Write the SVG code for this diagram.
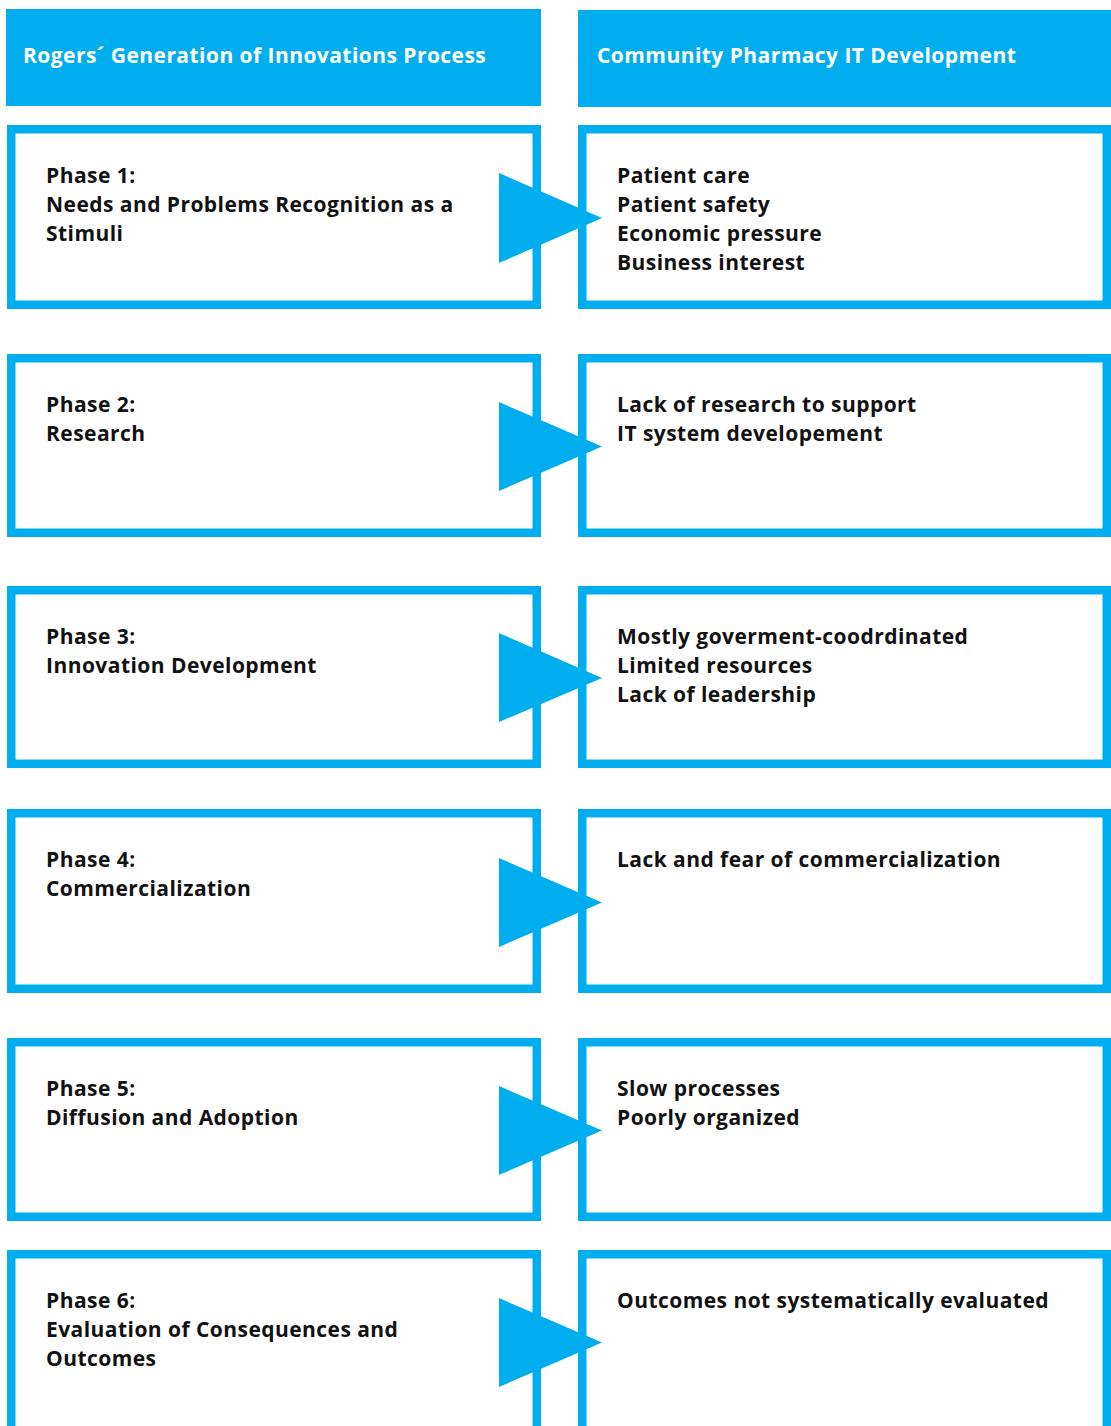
<svg xmlns="http://www.w3.org/2000/svg" width="1111" height="1426" viewBox="0 0 1111 1426">
<style>
.hdr{fill:#00AEEF}
.box{fill:#fff;stroke:#00AEEF;stroke-width:8.5}
.arr{fill:#00AEEF}
.ht{font-family:"Open Sans","Liberation Sans",sans-serif;font-weight:700;font-size:21px;letter-spacing:0.45px;fill:#fff}
.t{font-family:"Open Sans","Liberation Sans",sans-serif;font-weight:700;font-size:21px;letter-spacing:0.45px;fill:#111}
</style>
<rect width="1111" height="1426" fill="#fff"/>
<g id="header-left"><rect class="hdr" x="6" y="9" width="535" height="97"/><text class="ht" x="23" y="63">Rogers´ Generation of Innovations Process</text></g>
<g id="header-right"><rect class="hdr" x="578" y="10" width="533" height="97"/><text class="ht" x="597" y="63">Community Pharmacy IT Development</text></g>

<g id="phase1"><rect class="box" x="11.25" y="129.25" width="525.5" height="175.5"/><text class="t" x="46" y="183">Phase 1:<tspan x="46" dy="29">Needs and Problems Recognition as a</tspan><tspan x="46" dy="29">Stimuli</tspan></text></g>
<g id="it1"><rect class="box" x="582.25" y="129.25" width="524.5" height="175.5"/><text class="t" x="617" y="183">Patient care<tspan x="617" dy="29">Patient safety</tspan><tspan x="617" dy="29">Economic pressure</tspan><tspan x="617" dy="29">Business interest</tspan></text></g>

<g id="phase2"><rect class="box" x="11.25" y="358.25" width="525.5" height="174.5"/><text class="t" x="46" y="412">Phase 2:<tspan x="46" dy="29">Research</tspan></text></g>
<g id="it2"><rect class="box" x="582.25" y="358.25" width="524.5" height="174.5"/><text class="t" x="617" y="412">Lack of research to support<tspan x="617" dy="29">IT system developement</tspan></text></g>

<g id="phase3"><rect class="box" x="11.25" y="590.25" width="525.5" height="173.5"/><text class="t" x="46" y="644">Phase 3:<tspan x="46" dy="29">Innovation Development</tspan></text></g>
<g id="it3"><rect class="box" x="582.25" y="590.25" width="524.5" height="173.5"/><text class="t" x="617" y="644">Mostly goverment-coodrdinated<tspan x="617" dy="29">Limited resources</tspan><tspan x="617" dy="29">Lack of leadership</tspan></text></g>

<g id="phase4"><rect class="box" x="11.25" y="813.25" width="525.5" height="175.5"/><text class="t" x="46" y="867">Phase 4:<tspan x="46" dy="29">Commercialization</tspan></text></g>
<g id="it4"><rect class="box" x="582.25" y="813.25" width="524.5" height="175.5"/><text class="t" x="617" y="867">Lack and fear of commercialization</text></g>

<g id="phase5"><rect class="box" x="11.25" y="1042.25" width="525.5" height="174.5"/><text class="t" x="46" y="1096">Phase 5:<tspan x="46" dy="29">Diffusion and Adoption</tspan></text></g>
<g id="it5"><rect class="box" x="582.25" y="1042.25" width="524.5" height="174.5"/><text class="t" x="617" y="1096">Slow processes<tspan x="617" dy="29">Poorly organized</tspan></text></g>

<g id="phase6"><rect class="box" x="11.25" y="1254.25" width="525.5" height="180"/><text class="t" x="46" y="1308">Phase 6:<tspan x="46" dy="29">Evaluation of Consequences and</tspan><tspan x="46" dy="29">Outcomes</tspan></text></g>
<g id="it6"><rect class="box" x="582.25" y="1254.25" width="524.5" height="180"/><text class="t" x="617" y="1308">Outcomes not systematically evaluated</text></g>

<g id="connectors">
<polygon class="arr" points="499,173 602,218 499,263"/>
<polygon class="arr" points="499,402 602,446.5 499,491"/>
<polygon class="arr" points="499,633 602,678 499,722"/>
<polygon class="arr" points="499,858 602,902.5 499,947"/>
<polygon class="arr" points="499,1086 602,1130.5 499,1175"/>
<polygon class="arr" points="499,1298 602,1342.5 499,1387"/>
</g>
</svg>
